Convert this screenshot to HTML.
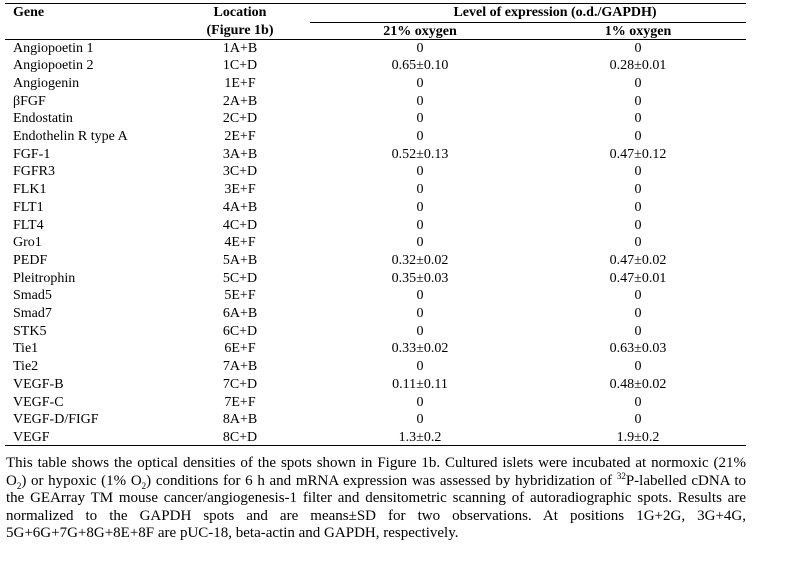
<!DOCTYPE html>
<html><head><meta charset="utf-8"><style>
html,body{margin:0;padding:0;background:#fff;width:788px;height:566px;overflow:hidden}
body{font-family:"Liberation Serif",serif;font-size:14px;color:#000;position:relative}
.l{position:absolute;height:1px;background:#000}
.t{position:absolute;white-space:nowrap;line-height:16px}
.c{text-align:center}
b{font-weight:bold}
.cap{position:absolute;left:6px;top:455px;width:740px;text-align:justify;line-height:17.6px;font-size:15px}
.cap sub,.cap sup{font-size:9px;line-height:0}
</style></head><body>
<div class="l" style="left:5px;top:3px;width:741px"></div>
<div class="l" style="left:310px;top:22px;width:436px"></div>
<div class="l" style="left:5px;top:39px;width:741px"></div>
<div class="l" style="left:5px;top:445px;width:741px"></div>
<div class="t" style="left:13px;top:5px"><b>Gene</b></div>
<div class="t c" style="left:170px;width:140px;top:5px"><b>Location</b></div>
<div class="t c" style="left:170px;width:140px;top:23px"><b>(Figure 1b)</b></div>
<div class="t c" style="left:330px;width:450px;top:5px"><b>Level of expression (o.d./GAPDH)</b></div>
<div class="t c" style="left:340px;width:160px;top:24px"><b>21% oxygen</b></div>
<div class="t c" style="left:558px;width:160px;top:24px"><b>1% oxygen</b></div>
<div id="rows"></div>
<script>
var d=[["Angiopoetin 1","1A+B","0","0"],["Angiopoetin 2","1C+D","0.65±0.10","0.28±0.01"],["Angiogenin","1E+F","0","0"],["βFGF","2A+B","0","0"],["Endostatin","2C+D","0","0"],["Endothelin R type A","2E+F","0","0"],["FGF-1","3A+B","0.52±0.13","0.47±0.12"],["FGFR3","3C+D","0","0"],["FLK1","3E+F","0","0"],["FLT1","4A+B","0","0"],["FLT4","4C+D","0","0"],["Gro1","4E+F","0","0"],["PEDF","5A+B","0.32±0.02","0.47±0.02"],["Pleitrophin","5C+D","0.35±0.03","0.47±0.01"],["Smad5","5E+F","0","0"],["Smad7","6A+B","0","0"],["STK5","6C+D","0","0"],["Tie1","6E+F","0.33±0.02","0.63±0.03"],["Tie2","7A+B","0","0"],["VEGF-B","7C+D","0.11±0.11","0.48±0.02"],["VEGF-C","7E+F","0","0"],["VEGF-D/FIGF","8A+B","0","0"],["VEGF","8C+D","1.3±0.2","1.9±0.2"]];
var h="";for(var i=0;i<d.length;i++){var y=40.5+i*17.7;
h+='<div class="t" style="left:13px;top:'+y+'px">'+d[i][0]+'</div>';
h+='<div class="t c" style="left:170px;width:140px;top:'+y+'px">'+d[i][1]+'</div>';
h+='<div class="t c" style="left:340px;width:160px;top:'+y+'px">'+d[i][2]+'</div>';
h+='<div class="t c" style="left:558px;width:160px;top:'+y+'px">'+d[i][3]+'</div>';}
document.getElementById("rows").innerHTML=h;
</script>
<div class="cap">This table shows the optical densities of the spots shown in Figure 1b. Cultured islets were incubated at normoxic (21% O<sub>2</sub>) or hypoxic (1% O<sub>2</sub>) conditions for 6 h and mRNA expression was assessed by hybridization of <sup>32</sup>P-labelled cDNA to the GEArray TM mouse cancer/angiogenesis-1 filter and densitometric scanning of autoradiographic spots. Results are normalized to the GAPDH spots and are means±SD for two observations. At positions 1G+2G, 3G+4G, 5G+6G+7G+8G+8E+8F are pUC-18, beta-actin and GAPDH, respectively.</div>
</body></html>
